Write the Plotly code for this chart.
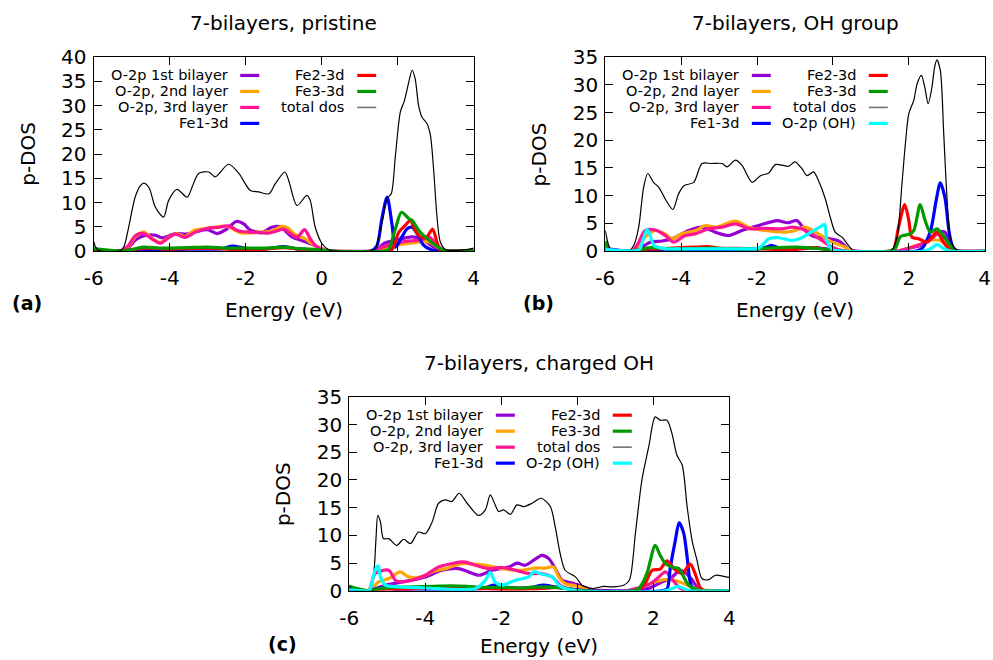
import plotly.graph_objects as go

# ---------------- DATA ----------------
xticks = [-6, -4, -2, 0, 2, 4]
xticklabels = ["-6", "-4", "-2", "0", "2", "4"]

titles = ["7-bilayers, pristine", "7-bilayers, OH group", "7-bilayers, charged OH"]
panel_tags = ["(a)", "(b)", "(c)"]
ymax = [40, 35, 35]

series_names = ["O-2p 1st bilayer", "O-2p, 2nd layer", "O-2p, 3rd layer", "Fe1-3d",
                "Fe2-3d", "Fe3-3d", "total dos", "O-2p (OH)"]

# ---- panel (a): pristine ----
a_p1_E = [-6.0, -5.3, -5.1, -4.91, -4.77, -4.55, -4.35, -4.2, -3.85, -3.55, -3.3, -3.0, -2.75, -2.5, -2.25, -2.05, -1.9, -1.57, -1.31, -1.09, -0.78, -0.43, -0.2, 0.0, 0.2, 1.3, 1.46, 1.63, 1.94, 2.38, 2.68, 2.95, 3.08, 3.3, 4.0]
a_p1_y = [0.2, 0.0, 0.6, 2.2, 2.9, 3.3, 3.2, 2.7, 3.6, 3.5, 4.0, 4.4, 3.6, 4.5, 6.1, 5.6, 4.4, 3.8, 4.9, 5.0, 2.9, 1.9, 1.2, 0.5, 0.05, 0.0, 0.2, 1.5, 2.2, 2.9, 2.2, 0.8, 0.2, 0.0, 0.0]
a_p2_E = [-6.0, -5.3, -5.1, -4.9, -4.68, -4.45, -4.25, -4.0, -3.82, -3.6, -3.35, -3.1, -2.85, -2.5, -2.3, -2.1, -1.8, -1.6, -1.3, -1.05, -0.9, -0.7, -0.45, -0.25, 0.0, 0.2, 1.3, 1.6, 1.9, 2.2, 2.5, 2.75, 2.9, 3.1, 3.3, 4.0]
a_p2_y = [0.1, 0.0, 0.8, 3.0, 3.9, 2.5, 1.8, 3.0, 3.6, 3.0, 4.3, 4.6, 4.9, 5.1, 4.4, 3.7, 3.8, 3.9, 4.1, 5.1, 4.8, 3.4, 2.6, 1.5, 0.4, 0.05, 0.0, 0.5, 1.0, 1.5, 1.8, 2.0, 1.6, 0.5, 0.0, 0.0]
a_p3_E = [-6.0, -5.3, -5.1, -4.9, -4.68, -4.45, -4.25, -4.0, -3.85, -3.6, -3.3, -3.0, -2.7, -2.45, -2.2, -1.9, -1.6, -1.4, -1.2, -1.0, -0.8, -0.65, -0.45, -0.3, -0.15, 0.05, 1.3, 1.6, 1.9, 2.2, 2.5, 2.75, 2.85, 3.0, 3.2, 4.0]
a_p3_y = [0.1, 0.0, 1.0, 3.2, 3.6, 2.4, 1.6, 2.9, 3.5, 2.8, 4.0, 4.7, 4.9, 5.2, 4.2, 3.9, 3.8, 3.7, 4.1, 4.5, 3.5, 2.8, 4.4, 2.5, 1.0, 0.1, 0.0, 0.8, 1.5, 2.0, 2.2, 2.6, 2.8, 1.5, 0.2, 0.0]
a_fe1_E = [-6.0, -5.3, -5.0, -4.5, -4.0, -3.5, -3.0, -2.6, -2.35, -2.1, -1.8, -1.4, -1.0, -0.7, -0.4, -0.1, 0.2, 1.3, 1.45, 1.58, 1.72, 1.85, 1.94, 2.11, 2.25, 2.38, 2.51, 2.68, 2.87, 3.0, 3.2, 4.0]
a_fe1_y = [0.1, 0.0, 0.2, 0.3, 0.3, 0.4, 0.4, 0.5, 1.0, 0.7, 0.3, 0.5, 0.9, 0.5, 0.3, 0.2, 0.0, 0.0, 1.0, 6.5, 11.1, 5.5, 0.8, 2.9, 4.6, 4.9, 3.6, 1.2, 0.3, 0.05, 0.0, 0.0]
a_fe2_E = [-6.0, -5.3, -5.0, -4.6, -4.0, -3.5, -3.0, -2.5, -2.0, -1.5, -1.0, -0.6, -0.2, 0.1, 1.7, 1.85, 2.03, 2.2, 2.33, 2.46, 2.6, 2.75, 2.92, 3.03, 3.12, 3.3, 4.0]
a_fe2_y = [0.3, 0.0, 0.3, 0.6, 0.4, 0.5, 0.6, 0.4, 0.3, 0.4, 0.7, 0.4, 0.2, 0.0, 0.0, 0.3, 3.9, 5.3, 6.3, 4.3, 2.9, 2.8, 4.5, 1.9, 0.2, 0.0, 0.0]
a_fe3_E = [-6.0, -5.3, -5.0, -4.7, -4.3, -4.0, -3.5, -3.0, -2.5, -2.0, -1.5, -1.0, -0.6, -0.3, 0.0, 0.2, 1.65, 1.76, 1.94, 2.1, 2.29, 2.38, 2.55, 2.77, 2.99, 3.2, 3.4, 4.0]
a_fe3_y = [0.5, 0.0, 0.3, 0.8, 0.6, 0.6, 0.7, 0.8, 0.6, 0.6, 0.6, 0.8, 0.5, 0.4, 0.2, 0.0, 0.0, 0.3, 4.6, 8.0, 6.7, 6.3, 4.3, 2.6, 1.2, 0.2, 0.0, 0.0]
a_tot_E = [-6.0, -5.95, -5.85, -5.3, -5.2, -5.08, -4.91, -4.77, -4.68, -4.54, -4.38, -4.16, -4.03, -3.81, -3.54, -3.41, -3.24, -2.97, -2.80, -2.45, -2.18, -1.88, -1.66, -1.39, -1.22, -0.97, -0.87, -0.65, -0.39, -0.30, -0.17, 0.01, 0.18, 0.3, 1.3, 1.41, 1.59, 1.72, 1.83, 1.94, 2.07, 2.18, 2.29, 2.38, 2.46, 2.55, 2.64, 2.77, 2.86, 2.95, 3.03, 3.12, 3.25, 3.4, 3.8, 4.0]
a_tot_y = [2.0, 0.8, 0.05, 0.05, 1.0, 4.9, 11.1, 13.5, 14.0, 13.0, 9.1, 7.0, 10.4, 12.7, 11.1, 13.2, 16.0, 16.3, 15.3, 17.9, 16.0, 12.5, 12.2, 11.8, 13.9, 16.3, 14.6, 9.4, 11.5, 10.4, 4.9, 1.5, 0.3, 0.05, 0.05, 0.5, 6.0, 10.8, 11.8, 19.7, 28.7, 31.1, 34.8, 37.3, 35.5, 30.0, 27.6, 26.3, 23.9, 16.3, 7.4, 1.9, 0.3, 0.1, 0.3, 0.6]

# ---- panel (b): OH group ----
b_p1_E = [-6.0, -5.3, -5.1, -4.81, -4.5, -4.24, -3.8, -3.45, -3.1, -2.75, -2.4, -1.96, -1.47, -1.2, -0.95, -0.73, -0.5, -0.29, 0.15, 0.41, 0.6, 1.7, 2.0, 2.3, 2.6, 2.85, 2.95, 3.1, 3.25, 4.0]
b_p1_y = [0.5, 0.0, 0.5, 1.6, 1.8, 2.2, 3.7, 4.3, 3.4, 2.8, 3.7, 4.6, 5.5, 5.1, 5.5, 3.7, 2.6, 2.4, 1.8, 0.4, 0.0, 0.0, 0.5, 1.0, 2.5, 3.5, 3.4, 1.5, 0.1, 0.0]
b_p2_E = [-6.0, -5.3, -5.15, -4.95, -4.68, -4.42, -4.24, -3.98, -3.63, -3.36, -3.1, -2.57, -2.22, -1.78, -1.25, -1.0, -0.73, -0.38, -0.02, 0.33, 0.5, 1.7, 2.0, 2.3, 2.6, 2.85, 3.1, 3.3, 4.0]
b_p2_y = [0.3, 0.0, 0.8, 2.5, 3.7, 3.1, 2.2, 3.1, 3.7, 4.6, 4.3, 5.4, 4.3, 3.7, 3.4, 3.7, 4.3, 3.1, 1.6, 0.7, 0.0, 0.0, 0.6, 1.2, 2.0, 1.8, 0.5, 0.0, 0.0]
b_p3_E = [-6.0, -5.3, -5.15, -4.95, -4.68, -4.42, -4.2, -3.89, -3.63, -3.28, -2.92, -2.57, -2.18, -1.78, -1.34, -1.08, -0.82, -0.55, -0.29, -0.02, 0.3, 1.7, 2.0, 2.3, 2.55, 2.75, 2.95, 3.15, 3.3, 4.0]
b_p3_y = [0.3, 0.0, 1.2, 3.7, 3.8, 2.8, 1.6, 2.8, 3.1, 4.0, 4.3, 4.9, 4.0, 4.1, 4.0, 4.3, 4.0, 3.1, 1.9, 0.7, 0.0, 0.0, 0.5, 1.2, 2.0, 3.0, 2.2, 0.5, 0.0, 0.0]
b_fe1_E = [-6.0, -5.3, -5.0, -4.5, -4.0, -3.5, -3.0, -2.5, -2.0, -1.8, -1.6, -1.4, -1.1, -0.8, -0.5, -0.2, 0.2, 2.2, 2.35, 2.57, 2.72, 2.83, 2.95, 3.07, 3.18, 3.3, 4.0]
b_fe1_y = [0.3, 0.0, 0.2, 0.3, 0.3, 0.3, 0.3, 0.3, 0.4, 0.6, 1.0, 0.5, 0.4, 0.5, 0.6, 0.4, 0.0, 0.0, 0.5, 3.6, 9.1, 12.3, 9.7, 3.1, 0.3, 0.0, 0.0]
b_fe2_E = [-6.0, -5.9, -5.3, -5.0, -4.5, -4.0, -3.6, -3.3, -3.0, -2.5, -2.0, -1.5, -1.0, -0.5, -0.2, 0.1, 1.5, 1.6, 1.73, 1.89, 2.0, 2.08, 2.26, 2.48, 2.74, 2.91, 3.1, 3.25, 4.0]
b_fe2_y = [1.5, 0.2, 0.0, 0.3, 0.4, 0.6, 0.7, 0.8, 0.5, 0.5, 0.4, 0.3, 0.3, 0.6, 0.3, 0.0, 0.0, 0.3, 4.3, 8.4, 5.5, 2.5, 2.2, 1.6, 3.4, 1.6, 0.2, 0.0, 0.0]
b_fe3_E = [-6.0, -5.9, -5.3, -5.0, -4.8, -4.5, -4.0, -3.5, -3.0, -2.5, -2.0, -1.5, -1.0, -0.5, -0.2, 0.1, 1.5, 1.64, 1.78, 2.0, 2.13, 2.30, 2.43, 2.57, 2.74, 2.91, 3.09, 3.25, 4.0]
b_fe3_y = [1.8, 0.2, 0.0, 0.4, 0.6, 0.5, 0.4, 0.5, 0.5, 0.4, 0.4, 0.6, 0.7, 0.5, 0.3, 0.0, 0.0, 0.5, 2.6, 3.0, 3.7, 8.4, 5.5, 3.4, 4.0, 2.8, 1.0, 0.0, 0.0]
b_tot_E = [-6.0, -5.9, -5.82, -5.38, -5.25, -5.12, -4.99, -4.88, -4.73, -4.59, -4.42, -4.22, -4.07, -3.93, -3.67, -3.45, -3.19, -2.92, -2.79, -2.57, -2.40, -2.13, -1.91, -1.69, -1.52, -1.34, -1.17, -1.0, -0.82, -0.68, -0.51, -0.38, -0.20, -0.07, 0.06, 0.24, 0.41, 0.55, 1.5, 1.56, 1.69, 1.82, 1.91, 2.0, 2.13, 2.22, 2.33, 2.42, 2.51, 2.61, 2.68, 2.74, 2.83, 2.92, 3.01, 3.09, 3.2, 3.35, 4.0]
b_tot_y = [3.7, 0.8, 0.0, 0.0, 1.0, 4.3, 11.5, 14.0, 12.4, 11.5, 9.4, 7.5, 10.3, 11.8, 12.4, 15.8, 15.8, 15.8, 15.2, 16.4, 15.5, 12.4, 13.6, 14.1, 15.6, 15.5, 15.3, 16.1, 14.9, 13.6, 14.3, 12.7, 9.4, 6.1, 3.4, 2.5, 1.0, 0.0, 0.0, 0.2, 2.5, 12.2, 19.4, 24.8, 27.2, 30.2, 31.7, 29.6, 26.6, 29.6, 33.2, 34.5, 32.6, 21.2, 9.1, 2.5, 0.5, 0.0, 0.0]
b_oh_E = [-6.0, -5.3, -5.1, -5.03, -4.90, -4.80, -4.72, -4.4, -4.0, -3.0, -2.2, -1.96, -1.8, -1.69, -1.43, -1.08, -0.82, -0.51, -0.35, -0.22, -0.16, 0.0, 0.2, 2.4, 2.6, 2.75, 2.9, 3.1, 4.0]
b_oh_y = [0.3, 0.0, 0.3, 1.5, 3.9, 2.5, 1.0, 0.4, 0.4, 0.4, 0.4, 0.5, 1.5, 2.2, 2.4, 1.9, 2.4, 3.7, 4.3, 4.8, 1.9, 0.2, 0.0, 0.0, 0.5, 1.2, 0.5, 0.0, 0.0]

# ---- panel (c): charged OH ----
c_p1_E = [-6.0, -5.5, -5.3, -5.05, -4.61, -4.0, -3.56, -3.12, -2.86, -2.59, -2.24, -1.80, -1.58, -1.37, -0.93, -0.75, -0.58, -0.40, -0.14, 0.12, 0.38, 1.5, 1.9, 2.2, 2.45, 2.71, 2.85, 3.02, 3.2, 4.0]
c_p1_y = [0.3, 0.0, 0.4, 1.0, 1.6, 2.5, 3.7, 4.0, 3.4, 2.8, 3.7, 4.3, 5.0, 4.6, 6.4, 5.8, 4.0, 1.9, 1.4, 0.8, 0.2, 0.0, 0.5, 1.5, 2.2, 3.7, 3.2, 2.0, 0.3, 0.0]
c_p2_E = [-6.0, -5.5, -5.23, -4.96, -4.66, -4.44, -4.09, -3.82, -3.47, -3.03, -2.68, -2.33, -1.98, -1.46, -1.11, -0.84, -0.62, -0.49, -0.32, -0.05, 0.21, 0.4, 1.4, 1.8, 2.1, 2.3, 2.6, 2.9, 3.2, 4.0]
c_p2_y = [0.3, 0.0, 1.6, 2.2, 3.4, 2.5, 2.5, 3.4, 4.0, 4.9, 4.8, 4.5, 4.0, 3.7, 4.1, 4.1, 4.3, 2.5, 1.3, 0.9, 0.4, 0.0, 0.0, 1.0, 1.7, 2.0, 1.8, 1.0, 0.2, 0.0]
c_p3_E = [-6.0, -5.5, -5.32, -4.96, -4.79, -4.61, -4.35, -4.0, -3.65, -3.30, -2.99, -2.68, -2.33, -1.98, -1.63, -1.28, -0.93, -0.66, -0.45, -0.24, 0.0, 1.3, 1.6, 1.9, 2.1, 2.32, 2.5, 2.7, 2.9, 4.0]
c_p3_y = [0.3, 0.0, 3.1, 3.7, 1.9, 1.6, 1.9, 2.8, 4.3, 4.9, 5.2, 4.6, 4.0, 4.2, 3.7, 3.1, 3.1, 2.5, 1.0, 0.4, 0.0, 0.0, 0.5, 1.2, 2.2, 3.4, 2.0, 0.5, 0.0, 0.0]
c_fe1_E = [-6.0, -5.5, -5.2, -4.8, -4.0, -3.5, -3.0, -2.5, -2.2, -1.9, -1.5, -1.2, -0.9, -0.6, -0.3, 0.0, 0.3, 2.2, 2.36, 2.45, 2.58, 2.68, 2.80, 2.89, 2.97, 3.05, 3.2, 4.0]
c_fe1_y = [0.3, 0.0, 0.5, 0.3, 0.3, 0.3, 0.3, 0.4, 1.0, 0.6, 0.5, 0.6, 1.0, 0.7, 0.4, 0.2, 0.0, 0.0, 0.3, 4.3, 9.1, 12.3, 10.4, 6.1, 1.6, 0.2, 0.0, 0.0]
c_fe2_E = [-6.0, -5.5, -5.0, -4.5, -4.0, -3.5, -3.0, -2.5, -2.0, -1.5, -1.0, -0.5, -0.2, 0.1, 1.6, 1.8, 1.97, 2.18, 2.36, 2.54, 2.76, 2.97, 3.1, 3.24, 3.35, 4.0]
c_fe2_y = [0.5, 0.0, 0.3, 0.3, 0.5, 0.6, 0.5, 0.4, 0.3, 0.3, 0.4, 0.6, 0.3, 0.0, 0.0, 1.5, 3.7, 3.9, 5.4, 4.0, 3.1, 4.8, 3.1, 0.5, 0.0, 0.0]
c_fe3_E = [-6.0, -5.5, -5.2, -4.8, -4.3, -3.8, -3.3, -2.9, -2.5, -2.0, -1.5, -1.0, -0.6, -0.2, 0.1, 1.5, 1.62, 1.83, 2.05, 2.18, 2.32, 2.49, 2.67, 2.80, 2.93, 3.1, 3.3, 4.0]
c_fe3_y = [0.8, 0.0, 0.4, 0.6, 0.7, 0.8, 0.9, 0.8, 0.6, 0.6, 0.5, 0.7, 0.6, 0.3, 0.0, 0.0, 0.4, 3.1, 8.2, 6.4, 4.9, 4.3, 4.0, 2.5, 1.0, 0.3, 0.0, 0.0]
c_tot_E = [-6.0, -5.95, -5.84, -5.49, -5.36, -5.30, -5.25, -5.18, -5.10, -4.96, -4.75, -4.57, -4.39, -4.18, -4.0, -3.82, -3.65, -3.47, -3.30, -3.11, -2.90, -2.60, -2.42, -2.29, -2.16, -2.07, -1.94, -1.76, -1.59, -1.41, -1.19, -0.95, -0.71, -0.58, -0.45, -0.32, -0.05, 0.12, 0.21, 0.39, 0.56, 0.69, 0.92, 1.22, 1.37, 1.53, 1.70, 1.88, 2.05, 2.18, 2.36, 2.49, 2.62, 2.76, 2.89, 3.02, 3.15, 3.28, 3.46, 3.63, 3.85, 4.0]
c_tot_y = [1.0, 0.4, 0.0, 0.0, 3.1, 9.1, 13.6, 12.4, 9.4, 9.4, 8.2, 9.3, 8.5, 10.6, 10.3, 12.4, 15.8, 16.4, 16.1, 17.6, 15.8, 13.6, 14.6, 17.3, 15.5, 14.3, 14.6, 13.8, 15.5, 15.2, 15.8, 16.7, 15.2, 11.5, 6.7, 3.7, 2.5, 1.0, 0.7, 0.4, 0.6, 0.8, 0.7, 1.0, 1.9, 10.4, 20.0, 26.0, 31.4, 30.8, 30.8, 28.4, 24.5, 22.7, 15.2, 9.1, 5.5, 2.2, 2.0, 2.8, 2.6, 2.4]
c_oh_E = [-6.0, -5.5, -5.45, -5.32, -5.24, -5.18, -5.05, -4.70, -4.0, -2.68, -2.42, -2.29, -2.16, -1.98, -1.63, -1.28, -1.15, -0.93, -0.66, -0.49, -0.32, 0.0, 2.3, 2.5, 2.65, 2.8, 3.0, 4.0]
c_oh_y = [0.2, 0.0, 0.4, 3.7, 4.5, 2.5, 1.0, 0.7, 0.5, 0.4, 1.9, 3.3, 1.5, 1.0, 1.9, 2.5, 3.4, 3.0, 2.5, 1.0, 0.4, 0.0, 0.0, 0.4, 0.8, 0.4, 0.0, 0.0]

panel_data = [
    [(a_p1_E, a_p1_y), (a_p2_E, a_p2_y), (a_p3_E, a_p3_y), (a_fe1_E, a_fe1_y),
     (a_fe2_E, a_fe2_y), (a_fe3_E, a_fe3_y), (a_tot_E, a_tot_y), None],
    [(b_p1_E, b_p1_y), (b_p2_E, b_p2_y), (b_p3_E, b_p3_y), (b_fe1_E, b_fe1_y),
     (b_fe2_E, b_fe2_y), (b_fe3_E, b_fe3_y), (b_tot_E, b_tot_y), (b_oh_E, b_oh_y)],
    [(c_p1_E, c_p1_y), (c_p2_E, c_p2_y), (c_p3_E, c_p3_y), (c_fe1_E, c_fe1_y),
     (c_fe2_E, c_fe2_y), (c_fe3_E, c_fe3_y), (c_tot_E, c_tot_y), (c_oh_E, c_oh_y)],
]

# ---------------- STYLE / LAYOUT ----------------
colors = ["#9400D3", "#FFA500", "#FF1493", "#0000FF", "#FF0000", "#009A00", "#000000", "#00FFFF"]
widths = [3.2, 3.2, 3.2, 3.2, 3.2, 3.2, 1.2, 3.2]

W, H = 993, 660
# measured placement of the figure inside the page (it is drawn a little inset)
OFFX, WE = 8.0, 977.0
OFFY, HE = 11.5, 636.5
FONT = "DejaVu Sans"
# plot frames in target pixels: left, right, top, bottom
frames = [(91.7, 471.7, 56.7, 250.7), (603.3, 982.7, 56.7, 250.7), (347.3, 727.3, 396.7, 590.7)]
tag_dy = [52.3, 52.3, 53.5]
xlabel_dy = [59.3, 59.3, 55.0]


def fx(p):
    return (p - OFFX) / WE


def fy(p):
    return 1 - (p - OFFY) / HE


fig = go.Figure()
layout = dict(width=W, height=H, autosize=False, margin=dict(l=0, r=0, t=0, b=0),
              paper_bgcolor="white", plot_bgcolor="white", showlegend=False,
              font=dict(family=FONT, color="black"))
annotations = []
shapes = []

for i, (l, r, t, b) in enumerate(frames):
    sfx = "" if i == 0 else str(i + 1)
    xa, ya = "x" + sfx, "y" + sfx
    for k, d in enumerate(panel_data[i]):
        if d is None:
            continue
        fig.add_trace(go.Scatter(x=d[0], y=d[1], mode="lines", xaxis=xa, yaxis=ya,
                                 line=dict(color=colors[k], width=widths[k], shape="spline", smoothing=0.8),
                                 name=series_names[k], hoverinfo="skip"))
    common = dict(showline=True, linecolor="black", linewidth=1.3, mirror="allticks",
                  ticks="inside", ticklen=8, tickwidth=1.2, tickcolor="black",
                  showgrid=False, zeroline=False, tickfont=dict(family=FONT, size=20, color="black"))
    layout["xaxis" + sfx] = dict(domain=[fx(l), fx(r)], range=[-6, 4], anchor=ya,
                                 tickmode="array", tickvals=xticks, ticktext=xticklabels,
                                 ticklabelstandoff=9, **common)
    layout["yaxis" + sfx] = dict(domain=[fy(b), fy(t)], range=[0, ymax[i]], anchor=xa,
                                 tickmode="linear", tick0=0, dtick=5, ticklabelstandoff=2, **common)
    cx = (l + r) / 2
    annotations.append(dict(text=titles[i], x=fx(cx), y=fy(t - 34), xref="paper", yref="paper",
                            showarrow=False, xanchor="center", yanchor="middle",
                            font=dict(family=FONT, size=20, color="black")))
    annotations.append(dict(text="Energy (eV)", x=fx(cx), y=fy(b + xlabel_dy[i]), xref="paper", yref="paper",
                            showarrow=False, xanchor="center", yanchor="middle",
                            font=dict(family=FONT, size=20, color="black")))
    annotations.append(dict(text="p-DOS", x=fx(l - 66), y=fy((t + b) / 2), xref="paper", yref="paper",
                            showarrow=False, xanchor="center", yanchor="middle", textangle=-90,
                            font=dict(family=FONT, size=20, color="black")))
    annotations.append(dict(text="<b>" + panel_tags[i] + "</b>", x=fx(l - 67), y=fy(b + tag_dy[i]),
                            xref="paper", yref="paper", showarrow=False, xanchor="center", yanchor="middle",
                            font=dict(family=FONT, size=19, color="black")))
    # key (two columns, text right-aligned with sample to the right)
    for k in range(8):
        if panel_data[i][k] is None:
            continue
        col, row = divmod(k, 4)
        ty = t + 18.3 + 16 * row
        tx = l + (136 if col == 0 else 252.7)
        sx0 = l + (146.5 if col == 0 else 263.5)
        annotations.append(dict(text=series_names[k], x=fx(tx), y=fy(ty), xref="paper", yref="paper",
                                showarrow=False, xanchor="right", yanchor="middle",
                                font=dict(family=FONT, size=14.5, color="black")))
        shapes.append(dict(type="line", xref="paper", yref="paper", x0=fx(sx0), x1=fx(sx0 + 19),
                           y0=fy(ty), y1=fy(ty),
                           line=dict(color=("#707070" if k == 6 else colors[k]), width=(1.6 if k == 6 else 3.2))))

layout["annotations"] = annotations
layout["shapes"] = shapes
fig.update_layout(**layout)
fig.write_html("out.html")
